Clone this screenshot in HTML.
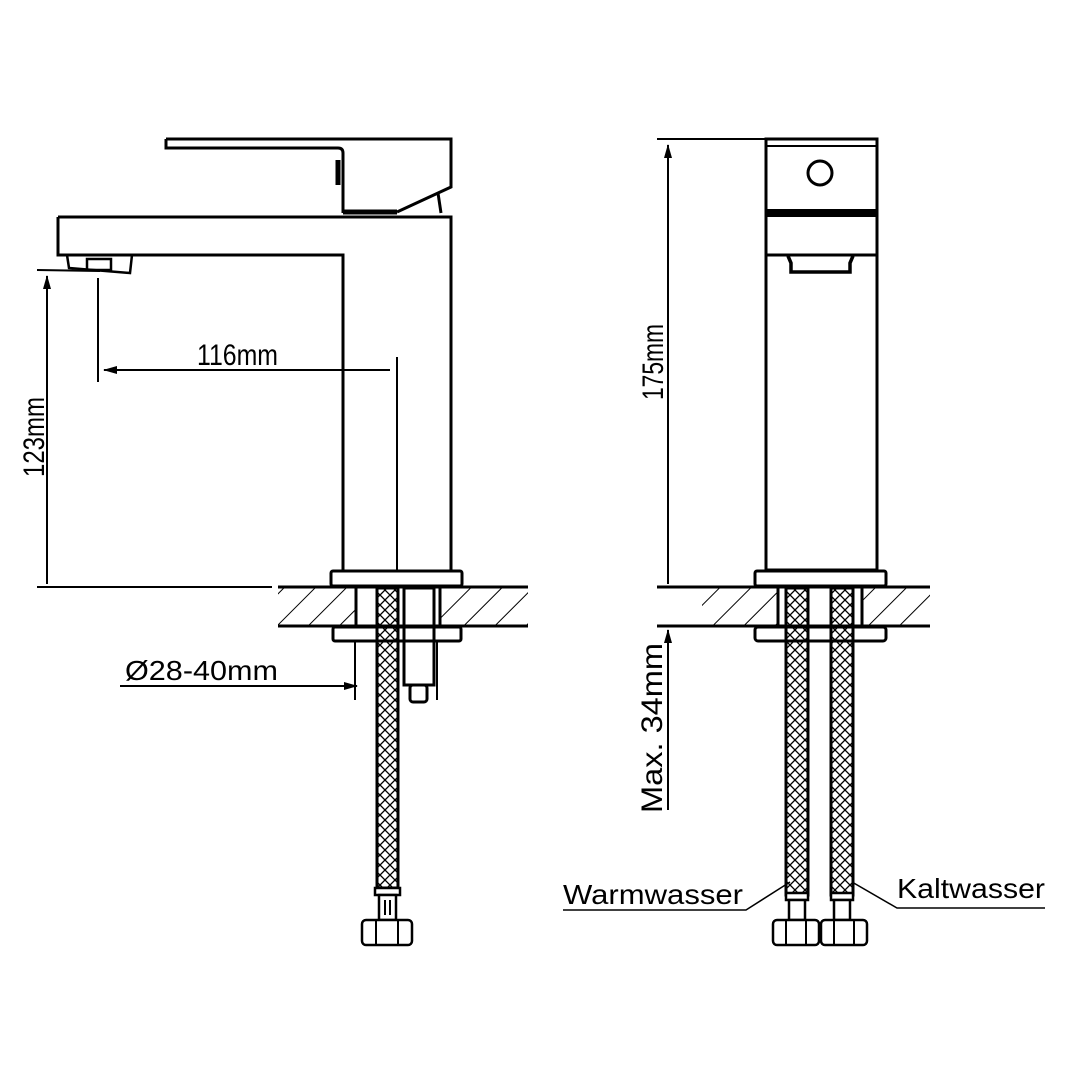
<!DOCTYPE html>
<html><head><style>body{margin:0;background:#fff}svg{display:block}</style></head><body>
<svg width="1080" height="1080" viewBox="0 0 1080 1080" xmlns="http://www.w3.org/2000/svg" font-family="'Liberation Sans', 'DejaVu Sans', sans-serif">
<defs>
<pattern id="hatch" width="22" height="22" patternUnits="userSpaceOnUse" patternTransform="rotate(45)">
<line x1="0" y1="0" x2="0" y2="22" stroke="#000" stroke-width="2"/></pattern>
<pattern id="braid" width="10" height="10" patternUnits="userSpaceOnUse">
<path d="M0 5 L5 0 M5 10 L10 5 M0 5 L5 10 M5 0 L10 5" stroke="#000" stroke-width="1.3" fill="none"/></pattern>
<marker id="ar" markerWidth="14" markerHeight="10" refX="13" refY="5" orient="auto" markerUnits="userSpaceOnUse"><path d="M0,1 L14,5 L0,9 Z" fill="#000"/></marker>
</defs>
<g fill="none" stroke="#000" stroke-width="3">
<path d="M166 139 H451 V187 L397 212 M166 139 V148 H338 Q343 148 343 153 V213"/>
<path d="M343 212 H397" stroke-width="5"/>
<path d="M338 160 V185" stroke-width="5"/>
<path d="M438 193 L441 213"/>
<path d="M58 217 H451 V572 M58 217 V255 H343 V572"/>
<path d="M67 255 L69 268 L130 273 L132 255" stroke-width="2.5"/>
<rect x="87" y="259" width="24" height="11" stroke-width="2.5"/>
</g>
<g stroke="#000" stroke-width="2" fill="none">
<line x1="37" y1="270" x2="100" y2="271"/>
<line x1="47" y1="584" x2="47" y2="276" marker-end="url(#ar)"/>
<line x1="37" y1="587" x2="272" y2="587"/>
<line x1="98" y1="278" x2="98" y2="382"/>
<line x1="390" y1="370" x2="104" y2="370" marker-end="url(#ar)"/>
<line x1="397" y1="357" x2="397" y2="570"/>
<line x1="120" y1="686" x2="357" y2="686" marker-end="url(#ar)"/>
<line x1="355" y1="640" x2="355" y2="700"/>
<line x1="437" y1="640" x2="437" y2="700"/>
<line x1="657" y1="139" x2="766" y2="139"/>
<line x1="668" y1="584" x2="668" y2="145" marker-end="url(#ar)"/>
<line x1="668" y1="810" x2="668" y2="630" marker-end="url(#ar)"/>
</g>
<rect x="278" y="588" width="250" height="38" fill="url(#hatch)"/>
<rect x="356" y="588" width="84" height="38" fill="#fff"/>
<g stroke="#000" stroke-width="3" fill="none">
<line x1="278" y1="587" x2="528" y2="587"/><line x1="278" y1="626" x2="528" y2="626"/>
<line x1="356" y1="588" x2="356" y2="626"/><line x1="440" y1="588" x2="440" y2="626"/>
<rect x="331" y="571" width="131" height="15" rx="2"/>
<rect x="333" y="627" width="128" height="14" rx="2"/>
<rect x="404" y="588" width="30" height="97"/>
<rect x="410" y="685" width="17" height="17" rx="3"/>
</g>
<rect x="377" y="588" width="21" height="300" fill="url(#braid)" stroke="#000" stroke-width="3"/>
<g stroke="#000" stroke-width="2.5" fill="#fff">
<rect x="375" y="888" width="25" height="7"/>
<rect x="379" y="895" width="17" height="25"/>
<rect x="362" y="920" width="50" height="25" rx="4"/>
</g>
<path d="M376 920 V945 M398 920 V945 M385 900 V915 M390 900 V915" stroke="#000" stroke-width="2"/>
<g stroke="#000" stroke-width="3" fill="none">
<rect x="766" y="139" width="111" height="431"/>
<line x1="766" y1="146" x2="877" y2="146" stroke-width="2"/>
<line x1="766" y1="213" x2="877" y2="213" stroke-width="8"/>
<line x1="766" y1="255" x2="877" y2="255"/>
<path d="M788 256 L791 263 V272 H850 V263 L853 256" stroke-width="3.5"/>
<circle cx="820" cy="173" r="12"/>
</g>
<rect x="657" y="588" width="273" height="38" fill="url(#hatch)"/>
<rect x="657" y="588" width="45" height="38" fill="#fff"/>
<rect x="778" y="588" width="84" height="38" fill="#fff"/>
<g stroke="#000" stroke-width="3" fill="none">
<line x1="657" y1="587" x2="930" y2="587"/><line x1="657" y1="626" x2="930" y2="626"/>
<line x1="778" y1="588" x2="778" y2="626"/><line x1="862" y1="588" x2="862" y2="626"/>
<rect x="755" y="571" width="131" height="15" rx="2"/>
<rect x="755" y="627" width="131" height="14" rx="3"/>
</g>
<rect x="786" y="588" width="22" height="307" fill="url(#braid)" stroke="#000" stroke-width="3"/>
<rect x="831" y="588" width="22" height="307" fill="url(#braid)" stroke="#000" stroke-width="3"/>
<g stroke="#000" stroke-width="2.5" fill="#fff">
<rect x="786" y="893" width="22" height="7"/><rect x="831" y="893" width="22" height="7"/>
<rect x="789" y="900" width="16" height="20"/><rect x="834" y="900" width="16" height="20"/>
<rect x="773" y="920" width="46" height="25" rx="4"/><rect x="821" y="920" width="46" height="25" rx="4"/>
</g>
<path d="M786 920 V945 M806 920 V945 M834 920 V945 M854 920 V945" stroke="#000" stroke-width="2"/>
<path d="M563 910 H746 L790 882 M1045 908 H897 L852 882" stroke="#000" stroke-width="1.5" fill="none"/>
<g fill="#000">
<text x="197" y="365" font-size="30" textLength="81" lengthAdjust="spacingAndGlyphs">116mm</text>
<text x="125" y="680" font-size="28" textLength="153" lengthAdjust="spacingAndGlyphs">Ø28-40mm</text>
<text x="563" y="904" font-size="28" textLength="180" lengthAdjust="spacingAndGlyphs">Warmwasser</text>
<text x="897" y="898" font-size="28" textLength="148" lengthAdjust="spacingAndGlyphs">Kaltwasser</text>
<text transform="translate(44,477) rotate(-90)" font-size="30" textLength="80" lengthAdjust="spacingAndGlyphs">123mm</text>
<text transform="translate(663,400) rotate(-90)" font-size="30" textLength="76" lengthAdjust="spacingAndGlyphs">175mm</text>
<text transform="translate(662,728) rotate(-90)" text-anchor="middle" font-size="30" textLength="170" lengthAdjust="spacingAndGlyphs">Max. 34mm</text>
</g>
</svg>
</body></html>
